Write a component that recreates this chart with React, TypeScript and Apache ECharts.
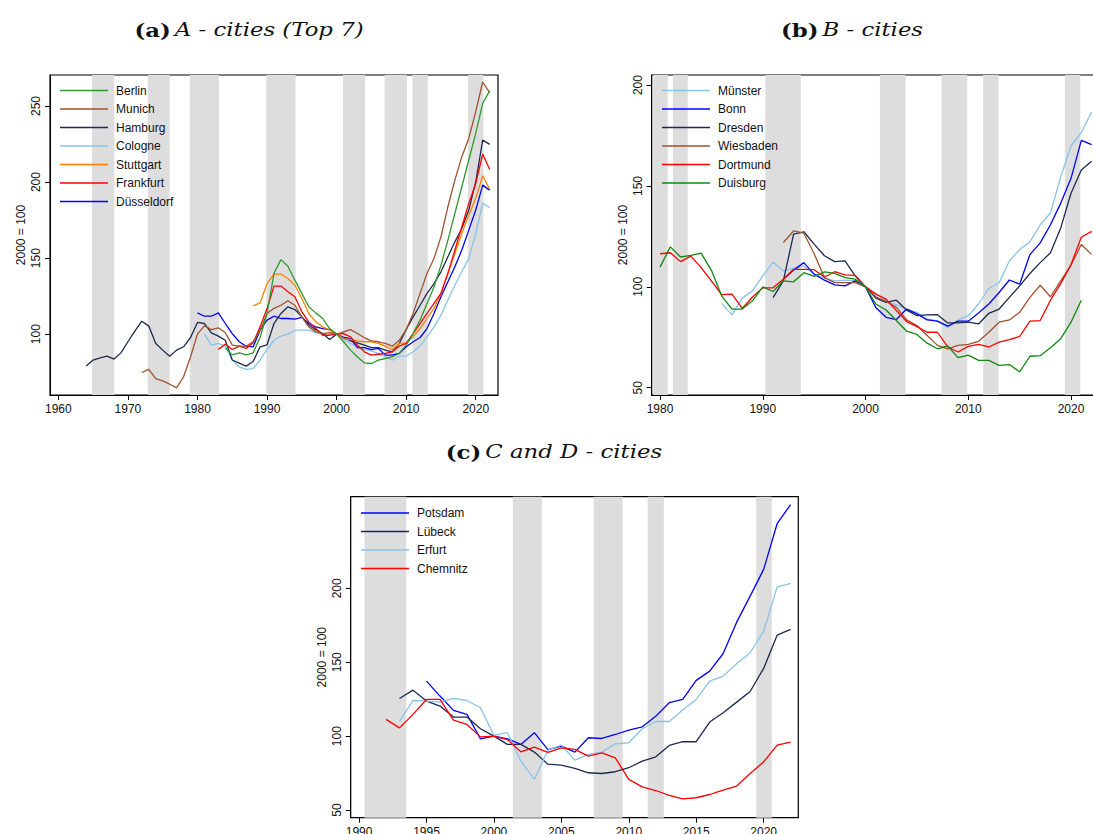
import React, { useEffect, useRef } from "react";
import * as echarts from "echarts";

// ---------- Panel (a): A - cities (Top 7) ----------
const berlinStart = 1984;
const berlin = [91, 86.4, 87.7, 86.4, 87.7, 97.8, 113.6, 140, 149, 144.7, 135.5, 126.8, 118, 114, 110.3, 103.7, 100, 95, 89.5, 85, 81.1, 80.7, 82.9, 84, 85, 87.3, 92.8, 100.4, 109.2, 120.2, 131, 145.4, 161.8, 179.4, 196.9, 214.5, 232, 251.8, 260];
const munichStart = 1972;
const munich = [74.8, 76.8, 70.8, 69.3, 67.1, 64.7, 72, 85, 100, 105.5, 103, 104.2, 100.9, 92.8, 92.1, 92.1, 95, 102.6, 113.6, 117, 119, 122, 119, 111.4, 104.8, 101.5, 100.4, 101, 100, 101.5, 103, 100.4, 97.6, 95.6, 95, 93.9, 92.1, 96, 103, 113.6, 126.8, 140, 149.8, 164, 183.8, 201.3, 216.7, 228.7, 246.3, 265.8, 258.8];
const hamburgStart = 1964;
const hamburg = [79, 83, 84.4, 85.5, 83.6, 87.7, 95, 102, 108.5, 105.3, 93.9, 89.5, 85.5, 89.5, 91.7, 97.8, 107.7, 107, 100.9, 98.7, 96, 83, 81, 79, 82, 91.7, 93, 107, 113.6, 118, 116.2, 111.4, 106, 103, 100.4, 96.5, 100, 97.8, 95.6, 94.3, 92.8, 91.2, 91.2, 89.5, 88.4, 93.9, 103, 111.4, 119, 126.8, 133.3, 141, 150.9, 160.7, 169.5, 181.6, 200.2, 227.6, 224.8];
const cologneStart = 1981;
const cologne = [100, 92.8, 93.9, 92.1, 83, 78.5, 76.8, 77.4, 83, 90, 96, 98.7, 100, 102.6, 102.6, 102.6, 101, 100.4, 100, 100, 96.5, 93.9, 91.7, 89.9, 89, 87.3, 85, 82.9, 85.5, 85.5, 88.4, 92.1, 98.2, 104.8, 112.5, 122.4, 132.2, 141, 149.8, 166.2, 186, 183.3];
const stuttgartStart = 1988;
const stuttgart = [118.6, 120.6, 133.3, 139.5, 139.5, 136.6, 132.2, 123.5, 113.6, 108.1, 104.8, 102.6, 100, 97.1, 96.5, 95.6, 95, 95, 93.9, 92.1, 89.9, 93.9, 94.3, 98.2, 103.7, 110.3, 116.9, 126.8, 140, 153, 166.2, 178.3, 189.3, 204.2, 195.4];
const frankfurtStart = 1983;
const frankfurt = [90, 93.4, 89.9, 92.1, 90.6, 94.3, 104.8, 116.9, 131.6, 131.6, 127.9, 124.6, 114.7, 108.1, 103.7, 99.3, 99.3, 100, 100.4, 98.2, 92.8, 88.4, 86.2, 86.8, 87.3, 88.4, 92.1, 93.9, 100.4, 107, 113.6, 120.2, 126.8, 140, 155.3, 170.6, 186, 199.1, 218.4, 208.3];
const duesseldorfStart = 1980;
const duesseldorf = [114, 111.8, 111.8, 114, 107, 100.4, 95, 92.1, 91.7, 102.6, 109.2, 111.8, 110.3, 110.3, 109.9, 111, 107, 104.8, 103.7, 103, 100, 97.8, 97.1, 91.2, 91.2, 89.9, 90.6, 86.2, 86.2, 87.3, 91.7, 95, 97.8, 103.7, 113.6, 124.6, 134.4, 144.3, 155.3, 168.4, 181.6, 198, 194.7];
const bandsA = [[1964.85, 1968.05], [1972.85, 1976.0], [1978.9, 1983.1], [1989.9, 1994.1], [2000.9, 2004.1], [2006.9, 2010.1], [2010.9, 2013.1], [2018.9, 2021.1]];
const xTicksA = [1960, 1970, 1980, 1990, 2000, 2010, 2020];
const yTicksA = [100, 150, 200, 250];

// ---------- Panel (b): B - cities ----------
const muensterStart = 1986;
const muenster = [91.8, 86.1, 94.4, 98, 105.4, 112.3, 107.9, 109.2, 110.3, 106.2, 104.3, 103, 103.3, 103, 100, 96.7, 93.1, 91.1, 89, 87.4, 84.1, 83, 80, 83.6, 85.7, 91.5, 99.2, 102.1, 112.8, 118.5, 122.3, 130.8, 136.6, 154.6, 169.8, 176.4, 186.6];
const bonnStart = 1992;
const bonn = [103.8, 108.3, 112, 106.3, 103.3, 101, 100.5, 103, 100, 89.8, 84.9, 83.8, 89, 86.6, 83.6, 83, 80.5, 83, 83, 87, 91.5, 97.2, 103.4, 101.3, 116, 121.8, 130.8, 141.5, 153.8, 172.6, 170.5];
const dresdenStart = 1991;
const dresden = [94.7, 103, 126.1, 127.3, 121.2, 115.4, 112.5, 112.9, 105.4, 100, 94.4, 92.3, 93.4, 88.5, 85.7, 86.1, 86.2, 82.1, 82.1, 82.5, 81.6, 86.9, 89, 94.8, 100.5, 106.6, 112, 116.9, 129.2, 146.4, 157.9, 162.3];
const wiesbadenStart = 1992;
const wiesbaden = [122, 127.7, 126.6, 116.4, 104.6, 102.1, 102.1, 102.1, 100, 95.1, 92.8, 89.8, 83.6, 80.8, 75.9, 71, 69.3, 71, 71.5, 73, 77.5, 82.5, 83.6, 87.4, 94.8, 100.8, 95.1, 103, 110.8, 121, 116.1];
const dortmundStart = 1980;
const dortmund = [116.4, 116.9, 112.5, 115.2, 109.5, 103, 96.1, 96.4, 89.3, 95, 99.5, 99.5, 103.8, 108.7, 108.7, 108.5, 104.9, 107.5, 105.9, 105.7, 100, 96.4, 93.9, 88.2, 82.8, 80.3, 77.5, 77.5, 70.2, 67.7, 70.5, 71.5, 70.2, 72.6, 73.8, 75.4, 83, 83.3, 93.4, 101.6, 111.1, 124.6, 127.5];
const duisburgStart = 1980;
const duisburg = [109.8, 119.8, 114.8, 115.6, 116.7, 108.2, 95.5, 89, 89, 93.1, 100, 97.7, 103, 102.5, 107, 105.2, 107.4, 106.7, 104.6, 103.8, 100, 91.5, 88.5, 83.3, 78, 76.4, 72.1, 69.3, 70.7, 64.9, 66.2, 63.6, 63.6, 61.1, 61.5, 57.9, 65.6, 65.9, 69.8, 74.3, 82.5, 93.4];
const bandsB = [[1979.35, 1980.75], [1981.25, 1982.7], [1990.25, 1993.7], [2001.4, 2003.9], [2007.4, 2009.9], [2011.45, 2012.95], [2019.4, 2020.9]];
const xTicksB = [1980, 1990, 2000, 2010, 2020];
const yTicksB = [50, 100, 150, 200];

// ---------- Panel (c): C and D - cities ----------
const potsdamStart = 1995;
const potsdam = [137.2, 127.1, 117.4, 114.7, 98.2, 100, 98.2, 94.4, 102.3, 90.8, 93.2, 89.2, 98.9, 98.4, 101.1, 104.1, 106.3, 113.5, 122.6, 124.8, 137.7, 144, 155.9, 177.1, 194.7, 212.8, 243.7, 256.7];
const luebeckStart = 1993;
const luebeck = [125.5, 131.1, 123.7, 120.3, 112.9, 112.9, 105, 100, 94.4, 94.4, 89.2, 81, 80.4, 78.1, 75.2, 74.7, 75.9, 78.6, 83.1, 86, 93.7, 96.2, 96.2, 109.5, 115.8, 123, 130.2, 145.8, 168.3, 172.2];
const erfurtStart = 1993;
const erfurt = [110.1, 124.1, 123.7, 123, 125.5, 124.1, 119.2, 100.5, 102.3, 83.1, 70.7, 90.5, 93.9, 83.8, 87.6, 89.2, 94.8, 95.5, 105, 109.9, 109.9, 117.6, 124.8, 137.2, 140.6, 148.9, 156.4, 171, 200.8, 203.3];
const chemnitzStart = 1992;
const chemnitz = [111.3, 105.6, 114.7, 124.8, 124.8, 110.8, 107.9, 99.5, 100, 97.7, 89.4, 92.6, 89, 92.1, 91, 86.5, 88.7, 85.3, 70.7, 65.7, 63.2, 59.9, 57.6, 58.3, 60.5, 63.5, 66.2, 74.7, 82.6, 93.9, 95.9];
const bandsC = [[1990.4, 1993.5], [2001.4, 2003.55], [2007.4, 2009.55], [2011.4, 2012.6], [2019.45, 2020.6]];
const xTicksC = [1990, 1995, 2000, 2005, 2010, 2015, 2020];
const yTicksC = [50, 100, 150, 200];

const NAVY = "#1c2b4f";
const LIGHTBLUE = "#87c4ea";
const BROWN = "#a0522d";
const RED = "#ff0000";
const BLUE = "#0000ff";
const ORANGE = "#ff8000";

const pairs = (start: number, vals: number[]) => vals.map((v, i) => [start + i, v]);

const AXIS_FONT = "Liberation Sans, Arial, sans-serif";
const TITLE_FONT = "DejaVu Serif, Liberation Serif, serif";

function lineSeries(name: string, color: string, start: number, vals: number[], idx: number) {
  return {
    type: "line",
    name,
    xAxisIndex: idx,
    yAxisIndex: idx,
    data: pairs(start, vals),
    showSymbol: false,
    symbol: "none",
    z: 3,
    color,
    lineStyle: { color, width: 1.3 },
    itemStyle: { color },
    emphasis: { disabled: true },
  };
}

function bandSeries(bands: number[][], idx: number) {
  return {
    type: "custom",
    xAxisIndex: idx,
    yAxisIndex: idx,
    silent: true,
    z: 1,
    data: bands,
    renderItem: (params: any, api: any) => {
      const s = api.coord([api.value(0), 100]);
      const e = api.coord([api.value(1), 100]);
      const cs = params.coordSys;
      return {
        type: "rect",
        shape: { x: s[0], y: cs.y, width: e[0] - s[0], height: cs.height },
        style: { fill: "#dddddd" },
      };
    },
  };
}

function xAxis(idx: number, min: number, max: number, ticks: number[]) {
  return {
    type: "value",
    gridIndex: idx,
    min,
    max,
    splitLine: { show: false },
    axisLine: { show: true, lineStyle: { color: "#000", width: 1 } },
    axisTick: { show: true, length: 5, customValues: ticks, lineStyle: { color: "#000" } },
    axisLabel: {
      customValues: ticks,
      margin: 8,
      color: "#111",
      fontFamily: AXIS_FONT,
      fontSize: 12,
      formatter: (v: number) => String(v),
    },
  };
}

function yAxis(idx: number, min: number, max: number, ticks: number[]) {
  return {
    type: "value",
    gridIndex: idx,
    min,
    max,
    name: "2000 = 100",
    nameLocation: "middle",
    nameRotate: 90,
    nameGap: 23,
    nameTextStyle: { color: "#111", fontFamily: AXIS_FONT, fontSize: 12 },
    splitLine: { show: false },
    axisLine: { show: true, lineStyle: { color: "#000", width: 1 } },
    axisTick: { show: true, length: 5, customValues: ticks, lineStyle: { color: "#000" } },
    axisLabel: {
      customValues: ticks,
      rotate: 90,
      margin: 8,
      color: "#111",
      fontFamily: AXIS_FONT,
      fontSize: 12,
      formatter: (v: number) => String(v),
    },
  };
}

function legend(names: string[], left: number, top: number) {
  return {
    orient: "vertical",
    left,
    top,
    data: names,
    icon: "rect",
    itemWidth: 48,
    itemHeight: 1.6,
    itemGap: 6.5,
    selectedMode: false,
    padding: 0,
    textStyle: { color: "#111", fontFamily: AXIS_FONT, fontSize: 12, lineHeight: 12, padding: [0, 0, 0, 3] },
  };
}

function titleText(x: number, y: number, tag: string, rest: string) {
  return {
    type: "text",
    x,
    y,
    scaleX: 1.2,
    style: {
      text: `{b|${tag}} {i|${rest}}`,
      align: "center",
      verticalAlign: "middle",
      rich: {
        b: { fontFamily: TITLE_FONT, fontWeight: "bold", fontSize: 19, fill: "#111" },
        i: { fontFamily: TITLE_FONT, fontStyle: "italic", fontSize: 19, fill: "#111" },
      },
    },
  };
}

export default function App() {
  const ref = useRef<HTMLDivElement>(null);
  useEffect(() => {
    if (!ref.current) return;
    const chart = echarts.init(ref.current, undefined, { renderer: "svg" });
    const gridBase = { show: true, borderColor: "#000", borderWidth: 1.2, containLabel: false, outerBoundsMode: "none" };
    chart.setOption({
      animation: false,
      backgroundColor: "#fff",
      grid: [
        { ...gridBase, left: 50, top: 75, width: 448, height: 320 },
        { ...gridBase, left: 651.7, top: 75, width: 448.1, height: 320 },
        { ...gridBase, left: 350.7, top: 496.7, width: 447.6, height: 321 },
      ],
      xAxis: [
        xAxis(0, 1958.8, 2023.2, xTicksA),
        xAxis(1, 1979.19, 2022.8, xTicksB),
        xAxis(2, 1989.38, 2022.57, xTicksC),
      ],
      yAxis: [
        yAxis(0, 60, 270.4, yTicksA),
        yAxis(1, 46.4, 205, yTicksB),
        yAxis(2, 44.8, 262, yTicksC),
      ],
      legend: [
        legend(["Berlin", "Munich", "Hamburg", "Cologne", "Stuttgart", "Frankfurt", "Düsseldorf"], 60, 84.5),
        legend(["Münster", "Bonn", "Dresden", "Wiesbaden", "Dortmund", "Duisburg"], 662, 84.5),
        legend(["Potsdam", "Lübeck", "Erfurt", "Chemnitz"], 361, 507),
      ],
      graphic: [
        titleText(249, 30, "(a)", "A - cities (Top 7)"),
        titleText(852, 30, "(b)", "B - cities"),
        titleText(554, 452, "(c)", "C and D - cities"),
      ],
      series: [
        bandSeries(bandsA, 0),
        bandSeries(bandsB, 1),
        bandSeries(bandsC, 2),
        lineSeries("Cologne", LIGHTBLUE, cologneStart, cologne, 0),
        lineSeries("Hamburg", NAVY, hamburgStart, hamburg, 0),
        lineSeries("Düsseldorf", BLUE, duesseldorfStart, duesseldorf, 0),
        lineSeries("Stuttgart", ORANGE, stuttgartStart, stuttgart, 0),
        lineSeries("Frankfurt", RED, frankfurtStart, frankfurt, 0),
        lineSeries("Munich", BROWN, munichStart, munich, 0),
        lineSeries("Berlin", "#2e9a2e", berlinStart, berlin, 0),
        lineSeries("Münster", LIGHTBLUE, muensterStart, muenster, 1),
        lineSeries("Bonn", BLUE, bonnStart, bonn, 1),
        lineSeries("Dresden", NAVY, dresdenStart, dresden, 1),
        lineSeries("Wiesbaden", BROWN, wiesbadenStart, wiesbaden, 1),
        lineSeries("Dortmund", RED, dortmundStart, dortmund, 1),
        lineSeries("Duisburg", "#118811", duisburgStart, duisburg, 1),
        lineSeries("Potsdam", BLUE, potsdamStart, potsdam, 2),
        lineSeries("Lübeck", NAVY, luebeckStart, luebeck, 2),
        lineSeries("Erfurt", LIGHTBLUE, erfurtStart, erfurt, 2),
        lineSeries("Chemnitz", RED, chemnitzStart, chemnitz, 2),
      ],
    });
    return () => chart.dispose();
  }, []);
  return (
    <div
      ref={ref}
      style={{ position: "absolute", left: 0, top: 0, width: 1093, height: 834, background: "#fff" }}
    />
  );
}
